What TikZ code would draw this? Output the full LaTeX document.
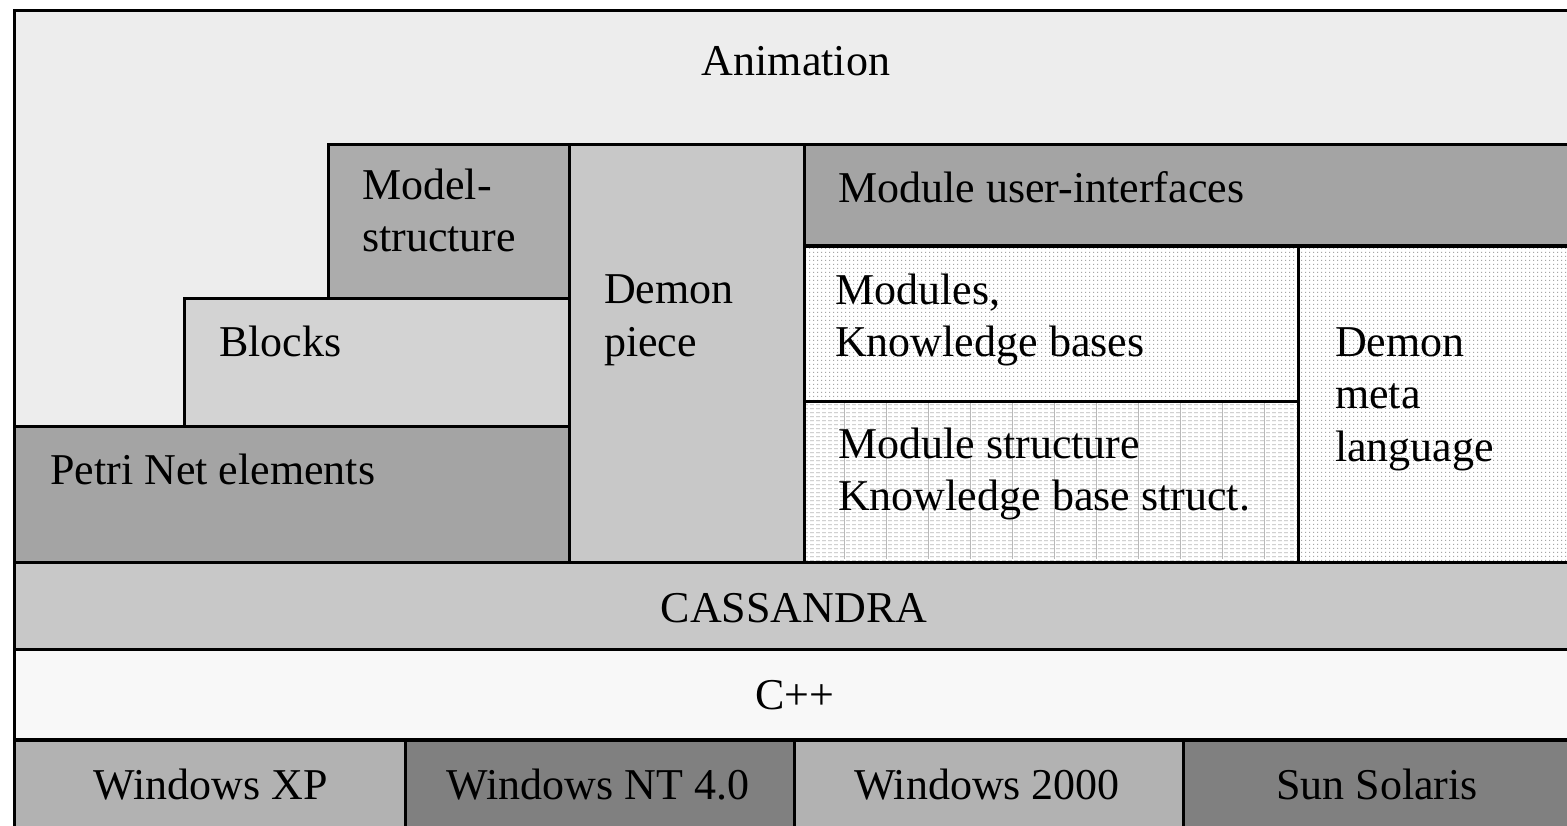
\documentclass[tikz,border=0pt]{standalone}
\usepackage{fontspec}
\setmainfont{Liberation Serif}
\usetikzlibrary{patterns}
\pgfdeclarepatternformonly{sparsedots}{\pgfqpoint{0pt}{0pt}}{\pgfqpoint{4pt}{4pt}}{\pgfqpoint{4pt}{4pt}}{%
  \pgfpathrectangle{\pgfqpoint{1.5pt}{1.5pt}}{\pgfqpoint{1.1pt}{1.1pt}}\pgfusepath{fill}}
\pgfdeclarepatternformonly{sparselines}{\pgfqpoint{0pt}{0pt}}{\pgfqpoint{6pt}{4.4pt}}{\pgfqpoint{6pt}{4.4pt}}{%
  \pgfpathrectangle{\pgfqpoint{0pt}{2pt}}{\pgfqpoint{4.5pt}{0.9pt}}\pgfusepath{fill}}
\definecolor{cAnim}{HTML}{EDEDED}
\definecolor{cMS}{HTML}{ACACAC}
\definecolor{cDemon}{HTML}{C8C8C8}
\definecolor{cMUI}{HTML}{A4A4A4}
\definecolor{cBlocks}{HTML}{D3D3D3}
\definecolor{cPetri}{HTML}{A4A4A4}
\definecolor{cCass}{HTML}{C8C8C8}
\definecolor{cCpp}{HTML}{F8F8F8}
\definecolor{cOSa}{HTML}{B2B2B2}
\definecolor{cOSb}{HTML}{808080}
\tikzset{
  box/.style={draw=black, line width=2.8pt, inner sep=0pt, anchor=north west, rectangle},
  dotbox/.style={box, preaction={fill=white}, pattern=sparsedots, pattern color=gray!70},
  linebox/.style={box, preaction={fill=white}, pattern=sparselines, pattern color=gray!55},
  lbl/.style={inner sep=0pt, anchor=base west, font=\fontsize{44}{52}\selectfont},
  clbl/.style={lbl, anchor=base},
}
\begin{document}
\begin{tikzpicture}[x=1pt,y=-1pt]
\clip (0,0) rectangle (1567,826);
\fill[white] (0,0) rectangle (1567,826);
% background animation layer
\node[box, fill=cAnim, minimum width=1570pt, minimum height=830pt] (anim) at (13,9) {};
% boxes
\node[box, fill=cMS, minimum width=241pt, minimum height=154pt] (modstruct) at (327,143) {};
\node[box, fill=cBlocks, minimum width=385pt, minimum height=128pt] (blocks) at (183,297) {};
\node[box, fill=cPetri, minimum width=555pt, minimum height=136pt] (petri) at (13,425) {};
\node[box, fill=cDemon, minimum width=235pt, minimum height=418pt] (demon) at (568,143) {};
\node[box, fill=cMUI, minimum width=777pt, minimum height=101pt] (mui) at (803,143) {};
\node[dotbox, minimum width=494pt, minimum height=155pt] (modules) at (803,245) {};
\node[linebox, minimum width=494pt, minimum height=161pt] (mstruct) at (803,400) {};
\foreach \i in {0,...,10} {
  \draw[gray!55, line width=0.7pt] (844+42*\i,402) -- (844+42*\i,559);
}
\node[box, fill=none, minimum width=494pt, minimum height=161pt] (mstructb) at (803,400) {};
\node[dotbox, minimum width=283pt, minimum height=316pt] (meta) at (1297,245) {};
\node[box, fill=cCass, minimum width=1570pt, minimum height=87pt] (cass) at (13,561) {};
\node[box, fill=cCpp, minimum width=1570pt, minimum height=90pt] (cpp) at (13,648) {};
\node[box, fill=cOSa, minimum width=391pt, minimum height=88pt] (winxp) at (13,739) {};
\node[box, fill=cOSb, minimum width=389pt, minimum height=88pt] (winnt) at (404,739) {};
\node[box, fill=cOSa, minimum width=389pt, minimum height=88pt] (win2k) at (793,739) {};
\node[box, fill=cOSb, minimum width=400pt, minimum height=88pt] (solaris) at (1182,739) {};
% labels
\node[clbl] (tAnim) at (796,76) {Animation};
\node[lbl] (tMS1) at (362,200) {Model-};
\node[lbl] (tMS2) at (362,252) {structure};
\node[lbl] (tBlocks) at (219,357) {Blocks};
\node[lbl] (tPetri) at (50,484) {Petri Net elements};
\node[lbl] (tDemon1) at (604,304) {Demon};
\node[lbl] (tDemon2) at (604,356) {piece};
\node[lbl] (tMUI) at (838,203) {Module user-interfaces};
\node[lbl] (tMod1) at (835,305) {Modules,};
\node[lbl] (tMod2) at (835,357) {Knowledge bases};
\node[lbl] (tMst1) at (838,458) {Module structure};
\node[lbl] (tMst2) at (838,510) {Knowledge base struct.};
\node[lbl] (tMeta1) at (1335,357) {Demon};
\node[lbl] (tMeta2) at (1335,409) {meta};
\node[lbl] (tMeta3) at (1335,461) {language};
\node[clbl] (tCass) at (794,622) {CASSANDRA};
\node[clbl] (tCpp) at (795,709) {C++};
\node[clbl] (tXP) at (211,799) {Windows XP};
\node[clbl] (tNT) at (598,799) {Windows NT 4.0};
\node[clbl] (t2k) at (987,799) {Windows 2000};
\node[clbl] (tSol) at (1377,799) {Sun Solaris};
\end{tikzpicture}
\end{document}
